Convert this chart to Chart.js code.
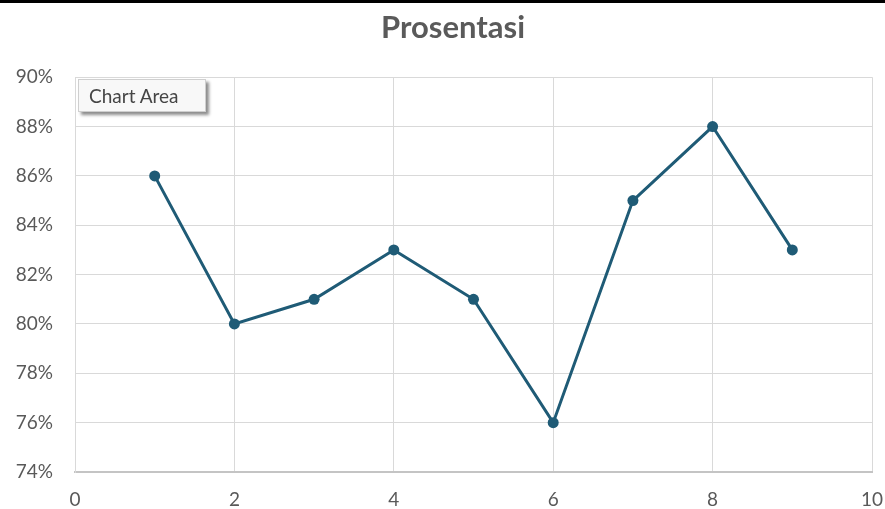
<!DOCTYPE html>
<html>
<head>
<meta charset="utf-8">
<script src="https://cdn.jsdelivr.net/npm/chart.js@4.4.1/dist/chart.umd.min.js"></script>
<style>
  html, body { margin: 0; padding: 0; background: #fff; }
  #wrap { position: relative; width: 885px; height: 509px; overflow: hidden; }
  #topbar { position: absolute; left: 0; top: 0; width: 885px; height: 3px; background: #000; }
  #tip { position: absolute; left: 78px; top: 79px; width: 128px; height: 33px; box-sizing: border-box;
         background: #f8f8f8; border: 1px solid #cfcfcf; box-shadow: 3px 3px 3px rgba(0,0,0,0.45);
         font-family: Lato, sans-serif; font-size: 19px; color: #454545; line-height: 31px; padding-left: 10px; }
</style>
</head>
<body>
<div id="wrap">
  <canvas id="c" width="885" height="509"></canvas>
  <div id="topbar"></div>
  <div id="tip">Chart Area</div>
</div>
<script>
const chartTitle = "Prosentasi";
const xValues = [1, 2, 3, 4, 5, 6, 7, 8, 9];
const percentValues = [86, 80, 81, 83, 81, 76, 85, 88, 83];
const xTicks = [0, 2, 4, 6, 8, 10];
const yTicks = [74, 76, 78, 80, 82, 84, 86, 88, 90];

const points = xValues.map((x, i) => ({ x: x, y: percentValues[i] }));
const lineColor = '#1f5b76';

const shiftTitle = {
  id: 'shiftTitle',
  afterLayout(chart) {
    const t = chart.titleBlock;
    if (t) { t.left = 34; t.right = 872; t.width = 838; }
  }
};

new Chart(document.getElementById('c'), {
  type: 'scatter',
  data: {
    datasets: [{
      data: points,
      showLine: true,
      borderColor: lineColor,
      backgroundColor: lineColor,
      borderWidth: 3,
      pointRadius: 5.5,
      pointBorderWidth: 0,
      pointBackgroundColor: lineColor,
      tension: 0
    }]
  },
  plugins: [shiftTitle],
  options: {
    responsive: false,
    animation: false,
    layout: { padding: { top: 0, right: 13, bottom: 0, left: 0 } },
    plugins: {
      legend: { display: false },
      tooltip: { enabled: false },
      title: {
        display: true,
        text: chartTitle,
        color: '#5a5a5a',
        font: { family: 'Lato', size: 31, weight: 'bold' },
        padding: { top: 9, bottom: 31 }
      }
    },
    scales: {
      x: {
        type: 'linear',
        min: xTicks[0],
        max: xTicks[xTicks.length - 1],
        afterBuildTicks: (s) => { s.ticks = xTicks.map(v => ({ value: v })); },
        afterFit: (s) => { s.height = 37; s.paddingLeft = 0; s.paddingRight = 0; },
        grid: { color: '#d9d9d9', lineWidth: 1, drawTicks: false },
        border: { color: '#c4c4c4', width: 2 },
        ticks: { color: '#595959', font: { family: 'Lato', size: 19 }, padding: 16, maxRotation: 0 }
      },
      y: {
        type: 'linear',
        min: yTicks[0],
        max: yTicks[yTicks.length - 1],
        afterBuildTicks: (s) => { s.ticks = yTicks.map(v => ({ value: v })); },
        afterFit: (s) => { s.width = 75; s.paddingTop = 0; s.paddingBottom = 0; },
        grid: { color: '#d9d9d9', lineWidth: 1, drawTicks: false },
        border: { color: '#d9d9d9', width: 1 },
        ticks: { color: '#595959', font: { family: 'Lato', size: 19 }, padding: 22,
                 callback: (v) => v + '%' }
      }
    }
  }
});
</script>
</body>
</html>
